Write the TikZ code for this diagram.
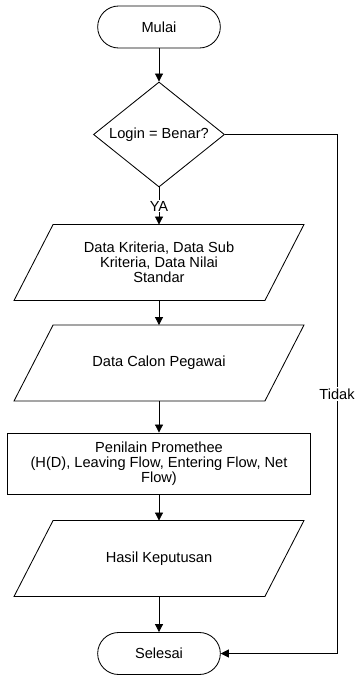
\documentclass[tikz,border=0pt]{standalone}
\usepackage{fontspec}
\setmainfont{Liberation Sans}
\usepackage{tikz}
\usetikzlibrary{arrows.meta,positioning,shapes.geometric,shapes.misc}

\begin{document}
\begin{tikzpicture}[x=0.025cm, y=-0.025cm,
            font=\fontsize{10.4}{10.7}\selectfont, line width=0.6pt,
            >={Triangle[length=2mm,width=2mm]},
            term/.style={draw, rounded rectangle, minimum width=3.3cm, minimum height=1.05cm},
            dec/.style={draw, diamond, aspect=1.25, inner sep=0pt, minimum width=3.275cm, minimum height=2.625cm},
            data/.style={rectangle, minimum width=6.25cm, minimum height=1.875cm, align=center},
            box/.style={draw, rectangle, minimum width=7.575cm, minimum height=1.525cm, align=center},
            lbl/.style={fill=white, inner sep=1pt}
            ]
            \useasboundingbox (0,0) rectangle (355,675);

            % Nodes with manual coordinates
            \node[term] (mulai) at (159,27) {Mulai};
            \node[dec] (login) at (159,134.5) {Login = Benar?};
            \node[data] (krit) at (159,262.5) {Data Kriteria, Data Sub\\Kriteria, Data Nilai\\Standar};
            \node[data] (calon) at (159,363) {Data Calon Pegawai};
            \node[box] (prom) at (159,463.5) {Penilain Promethee\\(H(D), Leaving Flow, Entering Flow, Net\\Flow)};
            \node[data] (hasil) at (159,558.5) {Hasil Keputusan};
            \node[term] (selesai) at (159,653.5) {Selesai};
            \coordinate (tr) at (337,134.5);
            \coordinate (br) at (337,653.5);

            % Slanted sides of the data nodes
            \foreach \n in {krit,calon,hasil}
                \draw ([xshift=0.4875cm]\n.north west) -- ([xshift=0.4875cm]\n.north east)
                    -- ([xshift=-0.4875cm]\n.south east) -- ([xshift=-0.4875cm]\n.south west) -- cycle;

            % Arrows
            \draw[->] (mulai.south) -- (login.north);
            \draw[->] (login.south) -- node[lbl] {YA} (krit.north);
            \draw[->] (krit.south) -- (calon.north);
            \draw[->] (calon.south) -- (prom.north);
            \draw[->] (prom.south) -- (hasil.north);
            \draw[->] (hasil.south) -- (selesai.north);
            \draw[->] (login.east) -- (tr) -- node[lbl] {Tidak} (br) -- (selesai.east);
        \end{tikzpicture}
\end{document}
